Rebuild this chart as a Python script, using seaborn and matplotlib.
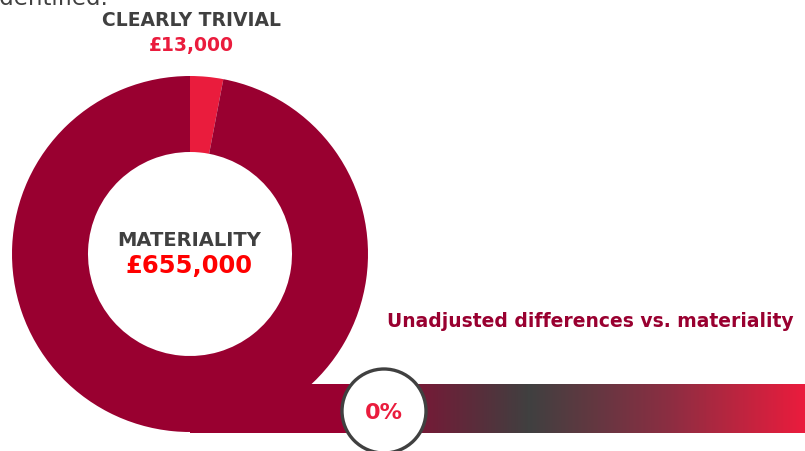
#Materiality donut with unadjusted differences bar
import seaborn as sns
import numpy as np
from matplotlib import pyplot as plt
from matplotlib.patches import Rectangle, Circle
from matplotlib.colors import LinearSegmentedColormap

# data
segment_labels = ['CLEARLY TRIVIAL', 'MATERIALITY']
segment_amounts = ['£13,000', '£655,000']
segment_shares = [3, 97]          # visual share of the ring
unadjusted_pct = [0]              # unadjusted differences vs. materiality (%)
bar_title = 'Unadjusted differences vs. materiality'

maroon = '#990030'
bright = '#EA1C3D'
grey = '#404040'

sns.set_theme(style='white')
plt.rcParams['font.family'] = ['DejaVu Sans']

fig = plt.figure(figsize=(8.05, 4.52), dpi=100)
ax = fig.add_axes([0, 0, 1, 1])

#donut
ax.pie(segment_shares, colors=[bright, maroon], startangle=90, counterclock=False,
       radius=178, center=(190, 197),
       wedgeprops=dict(width=76, edgecolor='none', linewidth=0))

#bar under the donut, solid then gradient
ax.add_patch(Rectangle((190, 18), 160, 49, facecolor=maroon, edgecolor='none', zorder=1))
cmap = LinearSegmentedColormap.from_list('bar', [(0, maroon), (0.4, grey), (0.7, '#8A2E42'), (1, bright)])
grad = np.linspace(0, 1, 400).reshape(1, -1)
ax.imshow(grad, cmap=cmap, extent=(345, 805, 18, 67), aspect='auto', zorder=1)

#marker circle
ax.add_patch(Circle((384, 40), 42, facecolor='white', edgecolor=grey, linewidth=2.4, zorder=3))
ax.text(384, 39, f'{unadjusted_pct[0]}%', color=bright, fontsize=16, fontweight='bold',
        ha='center', va='center', zorder=4)

#labels
ax.text(-6, 447, 'identified.', color=grey, fontsize=16.5, ha='left', va='baseline')
ax.text(191, 432, segment_labels[0], color=grey, fontsize=13.5, fontweight='bold', ha='center', va='center')
ax.text(191, 406, segment_amounts[0], color=bright, fontsize=13.5, fontweight='bold', ha='center', va='center')
ax.text(189, 211, segment_labels[1], color=grey, fontsize=14, fontweight='bold', ha='center', va='center')
ax.text(189, 186, segment_amounts[1], color='#FF0000', fontsize=17.5, fontweight='bold', ha='center', va='center')
ax.text(590, 125, bar_title, color=maroon, fontsize=13.5, fontweight='bold', ha='center', va='baseline')

ax.set_xlim(0, 805)
ax.set_ylim(0, 452)
ax.set_aspect('equal')
ax.axis('off')

plt.savefig('out.png', dpi=100)
